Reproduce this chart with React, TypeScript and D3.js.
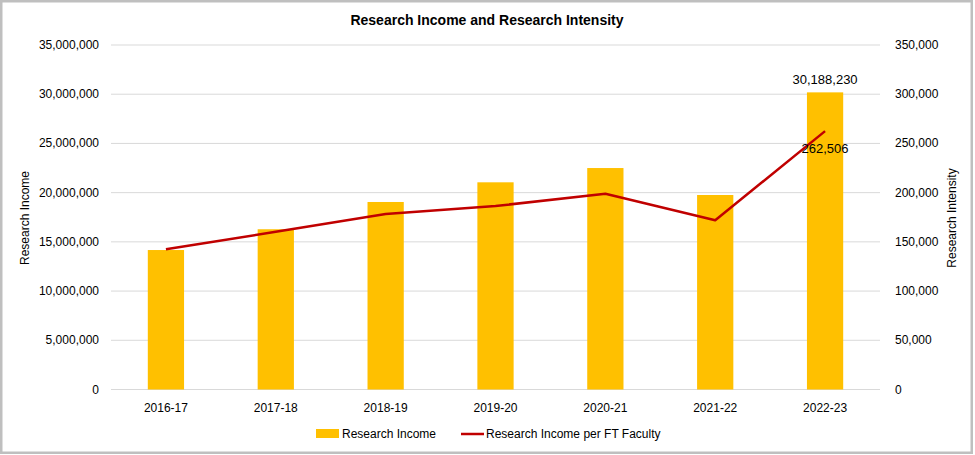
import React from "react";
import * as d3 from "d3";

const categories = ["2016-17", "2017-18", "2018-19", "2019-20", "2020-21", "2021-22", "2022-23"];
const researchIncome = [14170000, 16280000, 19050000, 21050000, 22500000, 19760000, 30188230];
const incomePerFaculty = [142400, 160300, 178300, 186400, 198900, 171900, 262506];
const leftTicks = [0, 5000000, 10000000, 15000000, 20000000, 25000000, 30000000, 35000000];
const rightTicks = [0, 50000, 100000, 150000, 200000, 250000, 300000, 350000];

const W = 975;
const H = 455;
const FONT = "'Liberation Sans', Arial, sans-serif";
const fmt = d3.format(",");

export default function App() {
  const plot = { left: 111, right: 880, top: 45, bottom: 389.5 };
  const x = d3.scaleBand<string>().domain(categories).range([plot.left, plot.right]).paddingInner(0.67).paddingOuter(0.335);
  const yL = d3.scaleLinear().domain([0, 35000000]).range([plot.bottom, plot.top]);
  const yR = d3.scaleLinear().domain([0, 350000]).range([plot.bottom, plot.top]);
  const cx = (c: string) => (x(c) as number) + x.bandwidth() / 2;
  const line = d3
    .line<number>()
    .x((_, i) => cx(categories[i]))
    .y((d) => yR(d));
  const last = categories.length - 1;

  return (
    <svg width={W} height={H} style={{ position: "absolute", left: 0, top: 0, background: "#fff" }} fontFamily={FONT}>
      <rect x={1.25} y={1.25} width={970.5} height={451.5} fill="#fff" stroke="#BFBFBF" strokeWidth={2.5} />
      <text x={487} y={25} textAnchor="middle" fontSize={14} fontWeight="bold" fill="#000">
        Research Income and Research Intensity
      </text>
      {leftTicks.map((t) => (
        <line key={"g" + t} x1={plot.left} x2={plot.right} y1={yL(t)} y2={yL(t)} stroke="#D9D9D9" strokeWidth={1} />
      ))}
      {leftTicks.map((t) => (
        <text key={"l" + t} x={99} y={yL(t) + 4} textAnchor="end" fontSize={12} fill="#000">
          {fmt(t)}
        </text>
      ))}
      {rightTicks.map((t) => (
        <text key={"r" + t} x={895} y={yR(t) + 4} textAnchor="start" fontSize={12} fill="#000">
          {fmt(t)}
        </text>
      ))}
      {categories.map((c, i) => (
        <rect key={"b" + c} x={x(c)} y={yL(researchIncome[i])} width={x.bandwidth()} height={plot.bottom - yL(researchIncome[i])} fill="#FFC000" />
      ))}
      <path d={line(incomePerFaculty) || ""} fill="none" stroke="#C00000" strokeWidth={2.5} strokeLinejoin="round" />
      {categories.map((c) => (
        <text key={"c" + c} x={cx(c)} y={412} textAnchor="middle" fontSize={12} fill="#000">
          {c}
        </text>
      ))}
      <text x={cx(categories[last])} y={84} textAnchor="middle" fontSize={13} fill="#000">
        {fmt(researchIncome[last])}
      </text>
      <text x={cx(categories[last])} y={yR(incomePerFaculty[last]) + 22} textAnchor="middle" fontSize={13} fill="#000">
        {fmt(incomePerFaculty[last])}
      </text>
      <text transform={`translate(29,218) rotate(-90)`} textAnchor="middle" fontSize={12} fill="#000">
        Research Income
      </text>
      <text transform={`translate(956,218) rotate(-90)`} textAnchor="middle" fontSize={12} fill="#000">
        Research Intensity
      </text>
      <rect x={316} y={429} width={23} height={9} fill="#FFC000" />
      <text x={342} y={438} fontSize={12} fill="#000">Research Income</text>
      <line x1={461} x2={484} y1={434} y2={434} stroke="#C00000" strokeWidth={2.5} />
      <text x={486} y={438} fontSize={12} fill="#000">Research Income per FT Faculty</text>
    </svg>
  );
}
